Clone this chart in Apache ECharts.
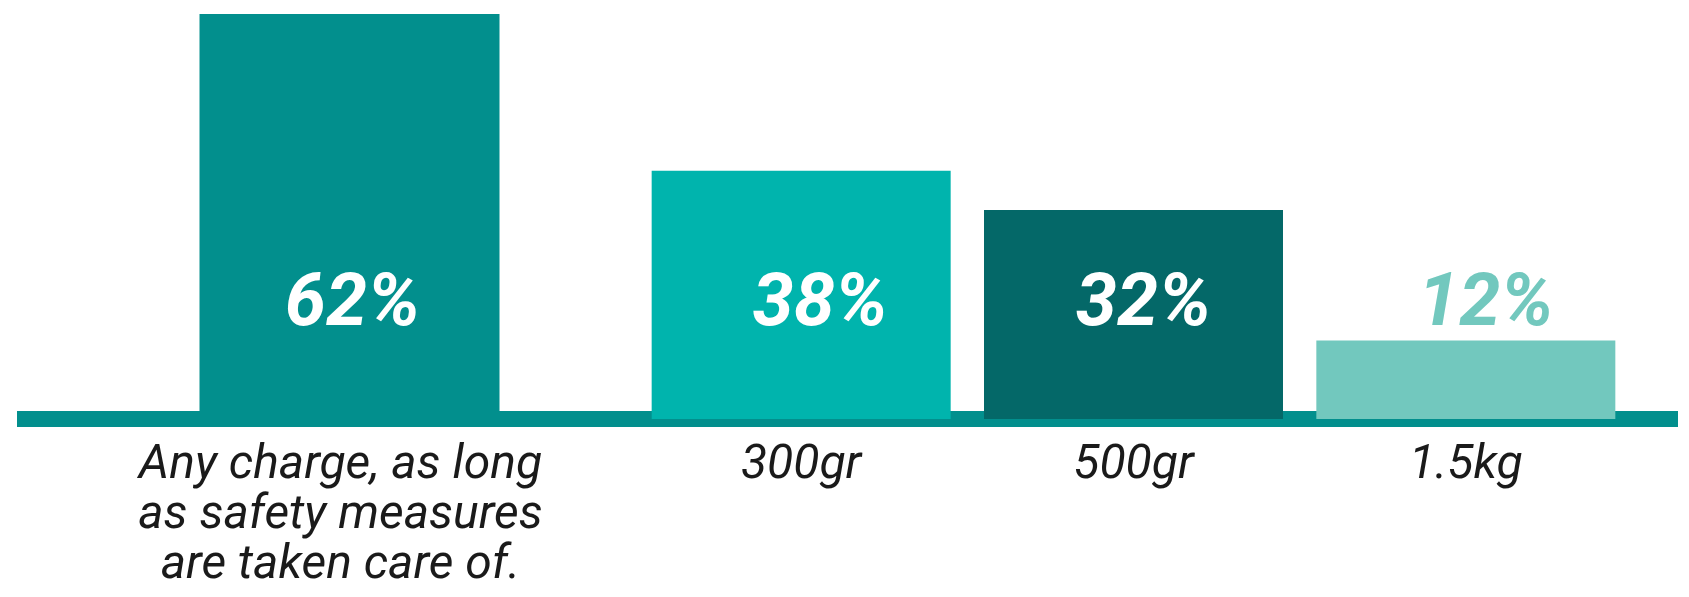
<!DOCTYPE html>
<html>
<head>
<meta charset="utf-8">
<script src="https://cdn.jsdelivr.net/npm/echarts@6/dist/echarts.min.js"></script>
<style>
  html, body { margin: 0; padding: 0; background: #fff; }
  #chart { width: 1689px; height: 597px; }
</style>
</head>
<body>
<div id="chart"></div>
<script>
var chart = echarts.init(document.getElementById('chart'));

// first bar stands alone, the weights share a second group
var firstCategory = ['Any charge, as long\nas safety measures\nare taken care of.'];
var firstValues = [62];
var weightCategories = ['300gr', '500gr', '1.5kg'];
var weightValues = [38, 32, 12];

var barColors = ['#028f8d', '#00b4ad', '#046868', '#72c8be'];
var labelColors = ['#ffffff', '#ffffff', '#ffffff', '#72c8be'];
// the percentages sit a little right of the bar centres
var labelShift = [3, 19, 10, 20];

var valueLabel = {
    show: true,
    position: 'insideBottom',
    distance: 75,
    formatter: '{c}%',
    fontFamily: 'Roboto',
    fontWeight: 'bold',
    fontStyle: 'italic',
    fontSize: 74,
    lineHeight: 76
};

var catLabel = {
    fontFamily: 'Roboto',
    fontStyle: 'italic',
    fontSize: 48,
    lineHeight: 50,
    color: '#1a1a1a',
    margin: 22
};

function barData(values, offset) {
    return values.map(function(v, i) {
        return {
            value: v,
            itemStyle: {color: barColors[offset + i]},
            label: {color: labelColors[offset + i], offset: [labelShift[offset + i], 0]}
        };
    });
}

var option = {
    animation: false,
    grid: [
        {left: 17, width: 1661, top: 14, bottom: 178},   // baseline only
        {left: 17, width: 665, top: 14, bottom: 178},
        {left: 635, width: 997, top: 14, bottom: 178}
    ],
    xAxis: [
        {
            gridIndex: 0, type: 'category', data: [''],
            axisLine: {lineStyle: {color: '#028f8d', width: 16, cap: 'butt'}},
            axisTick: {show: false}, axisLabel: {show: false}
        },
        {
            gridIndex: 1, type: 'category', data: firstCategory,
            axisLine: {show: false}, axisTick: {show: false},
            axisLabel: Object.assign({padding: [0, 18, 0, 0]}, catLabel)
        },
        {
            gridIndex: 2, type: 'category', data: weightCategories,
            axisLine: {show: false}, axisTick: {show: false},
            axisLabel: catLabel
        }
    ],
    yAxis: [0, 1, 2].map(function(g) {
        return {
            gridIndex: g, type: 'value', min: 0, max: 62, show: false,
            splitLine: {show: false}
        };
    }),
    series: [
        {
            type: 'bar', xAxisIndex: 1, yAxisIndex: 1,
            barWidth: 300, z: 3,
            label: valueLabel,
            data: barData(firstValues, 0)
        },
        {
            type: 'bar', xAxisIndex: 2, yAxisIndex: 2,
            barWidth: 299, z: 3,
            label: valueLabel,
            data: barData(weightValues, 1)
        }
    ]
};
chart.setOption(option);
</script>
</body>
</html>
